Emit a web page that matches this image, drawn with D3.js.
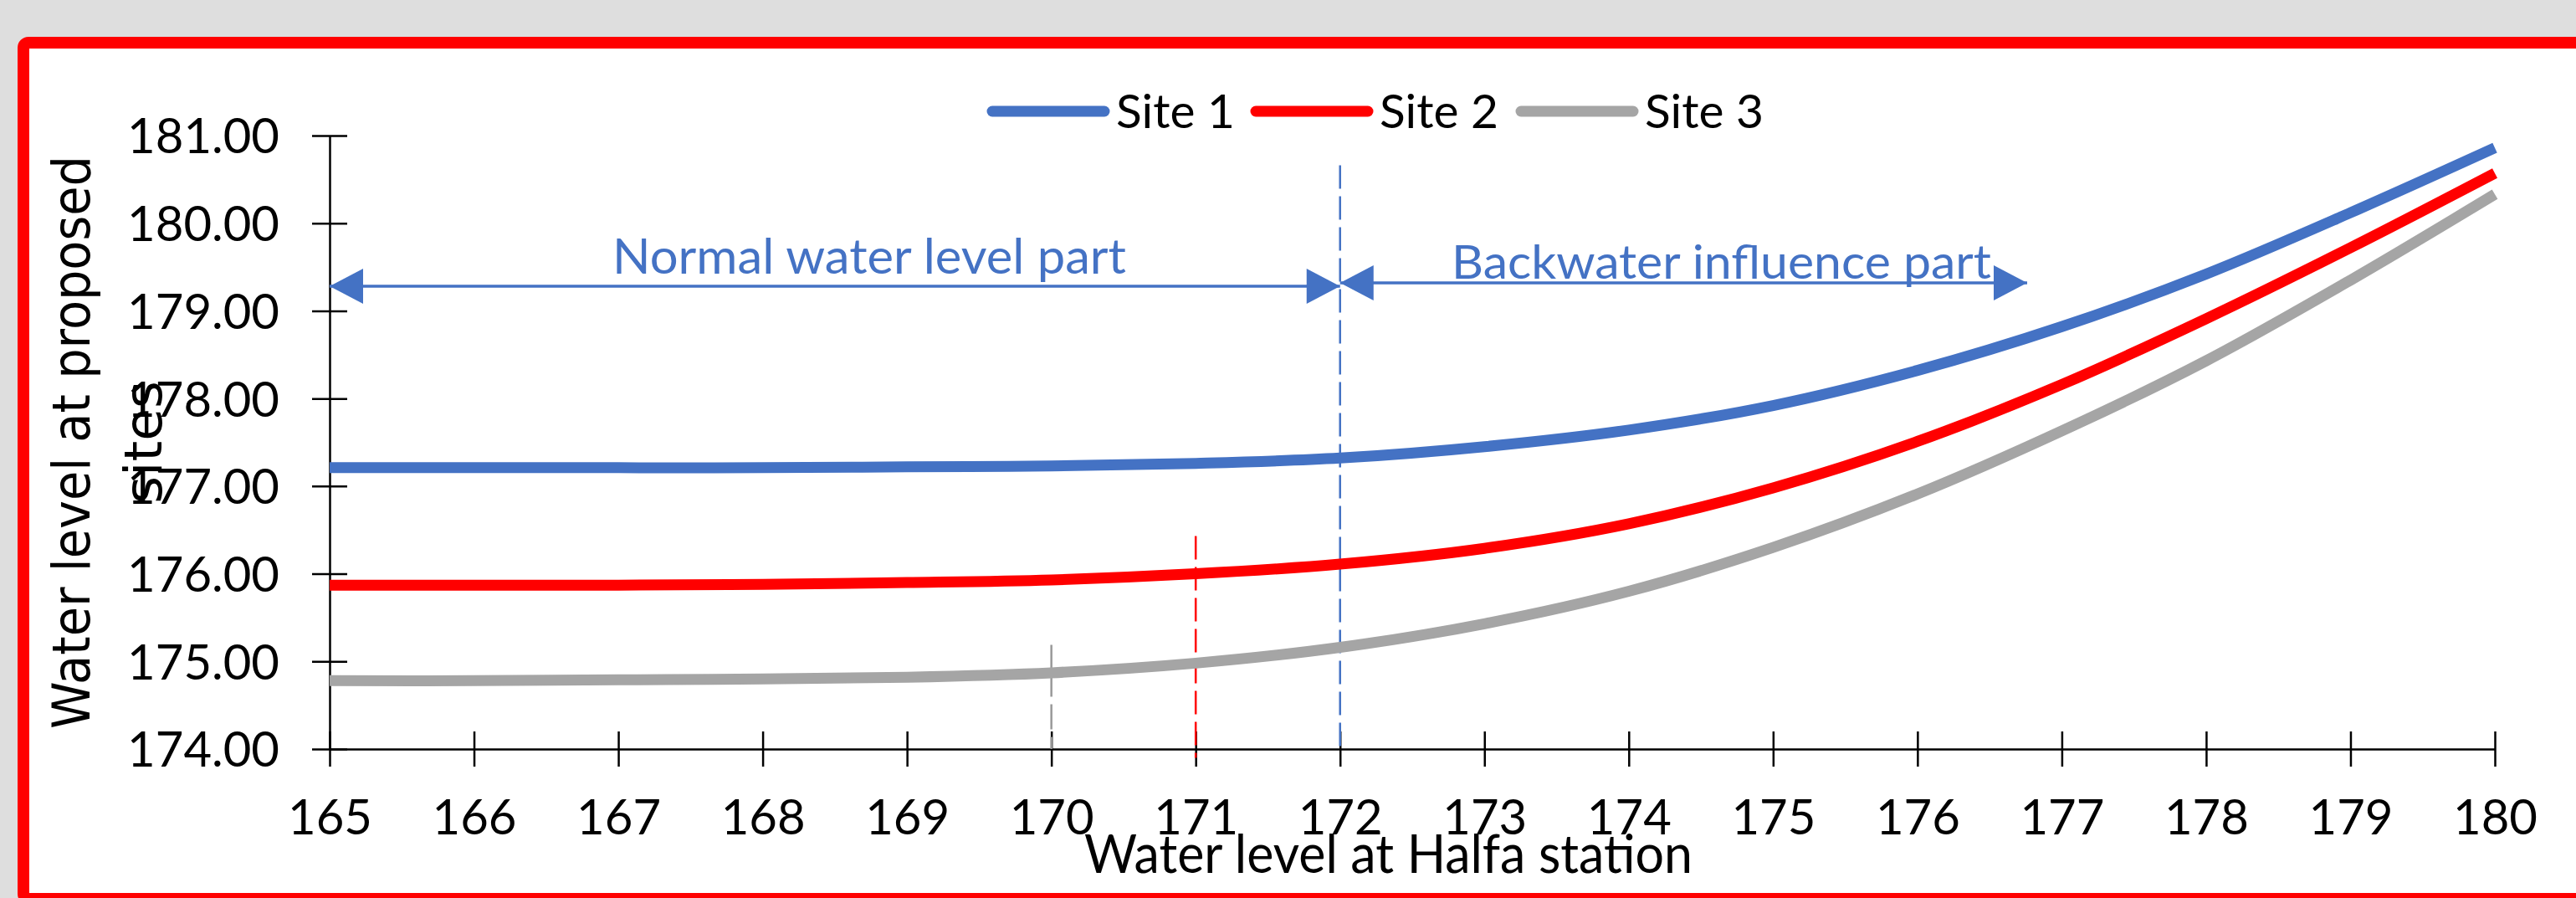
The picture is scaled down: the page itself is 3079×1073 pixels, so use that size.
<!DOCTYPE html>
<html><head><meta charset="utf-8">
<script src="https://cdn.jsdelivr.net/npm/d3@7"></script>
<style>
html,body{margin:0;padding:0;background:#dedede;}
svg{display:block;}
</style></head>
<body>
<script>
// ---- data ----
const halfa = [165,166,167,168,169,170,171,172,173,174,175,176,177,178,179,180];
const site1 = [177.21,177.21,177.21,177.21,177.22,177.23,177.26,177.32,177.45,177.64,177.92,178.32,178.82,179.42,180.12,180.86];
const site2 = [175.87,175.87,175.87,175.88,175.90,175.93,176.00,176.11,176.29,176.57,176.98,177.51,178.16,178.91,179.72,180.57];
const site3 = [174.78,174.78,174.79,174.80,174.82,174.87,174.98,175.16,175.43,175.80,176.30,176.91,177.63,178.43,179.35,180.33];
const seriesNames = ["Site 1","Site 2","Site 3"];
const xTicks = [165,166,167,168,169,170,171,172,173,174,175,176,177,178,179,180];
const yTicks = [174,175,176,177,178,179,180,181];
// dashed markers: [halfa level, top value, bottom value]
const markerLines = [[172,180.66,174.0],[171,176.43,173.9],[170,175.19,174.0]];
// annotation arrows: [from, to, level]
const arrows = [[165,172,179.28],[172,176.76,179.32]];
const annotations = ["Normal water level part","Backwater influence part"];

const colors = ["#4472C4","#FF0000","#A5A5A5"];
const W = 3079, H = 1073;
const svg = d3.select("body").append("svg").attr("width",W).attr("height",H);

// frame
svg.append("rect").attr("x",28).attr("y",51).attr("width",3200).attr("height",1023)
  .attr("rx",6).attr("fill","#fff").attr("stroke","#FF0000").attr("stroke-width",14);

const x = d3.scaleLinear().domain([165,180]).range([394,2982]);
const y = d3.scaleLinear().domain([174,181]).range([895,162]);

const FONT = "Lato, 'Open Sans', sans-serif";

// axes
const gx = svg.append("g").attr("transform",`translate(0,${y(174)})`)
  .call(d3.axisBottom(x).tickValues(xTicks).tickSizeOuter(0).tickFormat(d3.format("d")));
const gy = svg.append("g").attr("transform",`translate(${x(165)},0)`)
  .call(d3.axisLeft(y).tickValues(yTicks).tickSizeOuter(0).tickFormat(d3.format(".2f")));
[gx,gy].forEach(g=>{
  g.select(".domain").attr("stroke","#000").attr("stroke-width",2.5);
  g.selectAll(".tick line").attr("stroke","#000").attr("stroke-width",2.5);
  g.selectAll(".tick text").attr("font-family",FONT).attr("font-size",58).attr("fill","#000");
});
gx.selectAll(".tick line").attr("y1",-21).attr("y2",21);
gx.selectAll(".tick text").attr("y",102).attr("dy",0);
gy.selectAll(".tick line").attr("x1",-21).attr("x2",21);
gy.selectAll(".tick text").attr("x",-60).attr("dy","0.36em");

// dashed marker lines
markerLines.forEach((m,i)=>{
  svg.append("line").attr("x1",x(m[0])).attr("x2",x(m[0])).attr("y1",y(m[1])).attr("y2",y(m[2]))
    .attr("stroke", i===2 ? "#999999" : colors[i]).attr("stroke-width",2.5)
    .attr("stroke-dasharray", i===2 ? "62,9,30,9" : "28,9");
});

// series lines
const line = d3.line().x((d,i)=>x(halfa[i])).y(d=>y(d)).curve(d3.curveCatmullRom.alpha(0.5));
[site1,site2,site3].forEach((s,i)=>{
  svg.append("path").attr("d",line(s)).attr("fill","none").attr("stroke",colors[i])
    .attr("stroke-width",13).attr("stroke-linecap","butt");
});

// annotation arrows
const blue = "#4472C4";
function head(tipX, yy, dir){ // dir = -1 pointing left, +1 pointing right
  const L = 40, h = 21;
  return `M${tipX},${yy} L${tipX - dir*L},${yy-h} L${tipX - dir*L},${yy+h} Z`;
}
arrows.forEach((a,i)=>{
  const yy = y(a[2]);
  svg.append("line").attr("x1",x(a[0])).attr("x2",x(a[1])).attr("y1",yy).attr("y2",yy)
    .attr("stroke",blue).attr("stroke-width",3.5);
  svg.append("path").attr("d",head(x(a[0]),yy,-1)).attr("fill",blue);
  svg.append("path").attr("d",head(x(a[1]),yy,1)).attr("fill",blue);
});
svg.append("text").attr("x",732).attr("y",327).attr("font-family",FONT).attr("font-size",58)
  .attr("fill",blue).attr("textLength",614).attr("lengthAdjust","spacingAndGlyphs").text(annotations[0]);
svg.append("text").attr("x",1735).attr("y",333).attr("font-family",FONT).attr("font-size",56)
  .attr("fill",blue).attr("textLength",645).attr("lengthAdjust","spacingAndGlyphs").text(annotations[1]);

// legend
const legX = [1186,1501,1818];
seriesNames.forEach((n,i)=>{
  svg.append("line").attr("x1",legX[i]).attr("x2",legX[i]+134).attr("y1",133).attr("y2",133)
    .attr("stroke",colors[i]).attr("stroke-width",13).attr("stroke-linecap","round");
  svg.append("text").attr("x",legX[i]+148).attr("y",153).attr("font-family",FONT).attr("font-size",56)
    .attr("fill","#000").attr("textLength",142).attr("lengthAdjust","spacingAndGlyphs").text(n);
});

// axis titles
svg.append("text").attr("x",1296).attr("y",1043).attr("font-family",FONT).attr("font-size",63)
  .attr("fill","#000").attr("textLength",727).attr("lengthAdjust","spacingAndGlyphs")
  .text("Water level at Halfa station");
const yt = svg.append("g").attr("transform",`translate(0,${(y(174)+y(181))/2})`);
yt.append("text").attr("transform","translate(107,0) rotate(-90)").attr("text-anchor","middle")
  .attr("font-family","'DejaVu Sans', Verdana, sans-serif").attr("font-size",63)
  .attr("textLength",685).attr("lengthAdjust","spacingAndGlyphs").attr("fill","#000")
  .text("Water level at proposed");
yt.append("text").attr("transform","translate(193,0) rotate(-90)").attr("text-anchor","middle")
  .attr("font-family","'DejaVu Sans', Verdana, sans-serif").attr("font-size",63).attr("fill","#000")
  .text("sites");
</script>
</body></html>
